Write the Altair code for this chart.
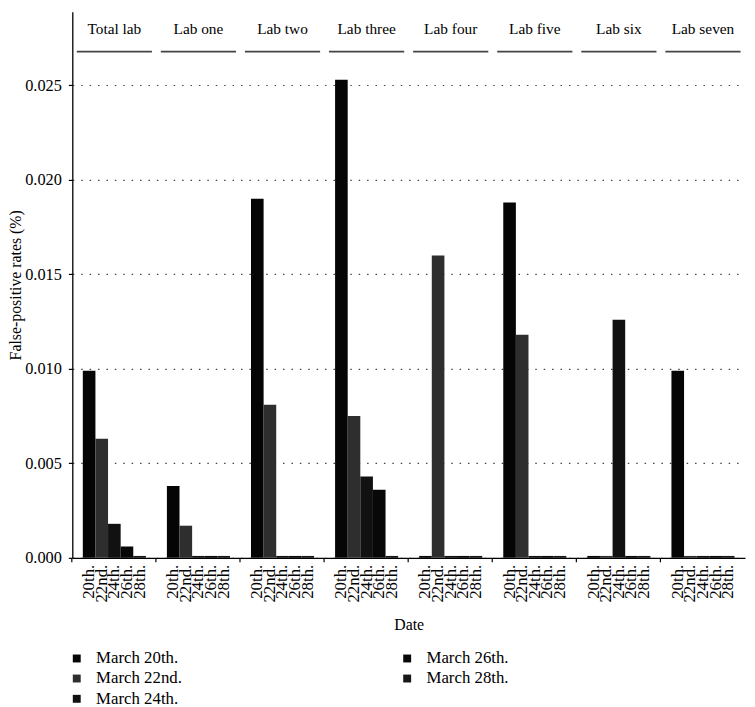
import altair as alt
import pandas as pd

labs = ["Total lab", "Lab one", "Lab two", "Lab three", "Lab four",
        "Lab five", "Lab six", "Lab seven"]
dates = ["20th.", "22nd.", "24th.", "26th.", "28th."]
series_names = ["March 20th.", "March 22nd.", "March 24th.", "March 26th.", "March 28th."]
series_colors = ["#050505", "#2e2e2e", "#111111", "#080808", "#171717"]

# false-positive rates per lab, for 20th, 22nd, 24th, 26th, 28th
total_lab = [0.0099, 0.0063, 0.0018, 0.0006, 0.0001]
lab_one = [0.0038, 0.0017, 0.0001, 0.0001, 0.0001]
lab_two = [0.0190, 0.0081, 0.0001, 0.0001, 0.0001]
lab_three = [0.0253, 0.0075, 0.0043, 0.0036, 0.0001]
lab_four = [0.0001, 0.0160, 0.0001, 0.0001, 0.0001]
lab_five = [0.0188, 0.0118, 0.0001, 0.0001, 0.0001]
lab_six = [0.0001, 0.0001, 0.0126, 0.0001, 0.0001]
lab_seven = [0.0099, 0.0001, 0.0001, 0.0001, 0.0001]

y_ticks = [0.0, 0.005, 0.010, 0.015, 0.020, 0.025]

all_values = [total_lab, lab_one, lab_two, lab_three, lab_four, lab_five, lab_six, lab_seven]
rows = []
for lab, vals in zip(labs, all_values):
    for d, s, v in zip(dates, series_names, vals):
        rows.append({"lab": lab, "date": d, "series": s, "rate": v})
df = pd.DataFrame(rows)
labs_df = pd.DataFrame({"lab": labs})

FONT = "Liberation Serif"

x_enc = alt.X("lab:N", sort=labs,
              scale=alt.Scale(paddingInner=0.25, paddingOuter=0.125),
              axis=alt.Axis(title="Date", labels=False, ticks=True, tickSize=4,
                            bandPosition=-0.1667, grid=False,
                            titlePadding=55, titleFontSize=16,
                            titleFont=FONT, titleFontWeight="normal"))
xo_enc = alt.XOffset("date:N", sort=dates,
                     scale=alt.Scale(paddingInner=0, paddingOuter=0))

bars = alt.Chart(df).mark_bar().encode(
    x=x_enc,
    xOffset=xo_enc,
    y=alt.Y("rate:Q",
            scale=alt.Scale(domain=[0, 0.0289], nice=False, zero=True),
            axis=alt.Axis(values=y_ticks, format=".3f",
                          title="False-positive rates (%)",
                          grid=True, gridDash=[1.5, 7], gridColor="#444",
                          gridWidth=1.1, tickSize=4, labelPadding=7,
                          labelFont=FONT, labelFontSize=16.5,
                          titleFont=FONT, titleFontSize=16,
                          titleFontWeight="normal", titleX=-49)),
    color=alt.Color("series:N",
                    scale=alt.Scale(domain=series_names, range=series_colors),
                    legend=alt.Legend(title=None, orient="none", legendX=-4,
                                      legendY=645, columns=2, columnPadding=219,
                                      symbolType="square", symbolSize=64,
                                      symbolStrokeWidth=0, labelFontSize=17,
                                      labelOffset=11, rowPadding=2.5,
                                      labelFont=FONT, labelColor="black")),
)

underline = alt.Chart(labs_df).mark_bar(width=76, color="#444").encode(
    x=alt.X("lab:N", sort=labs),
    y=alt.value(39.5),
    y2=alt.value(41.2),
)

headers = alt.Chart(labs_df).mark_text(fontSize=15.5, baseline="middle",
                                       font=FONT, color="black").encode(
    x=alt.X("lab:N", sort=labs),
    y=alt.value(17),
    text="lab:N",
)

date_labels = alt.Chart(df).mark_text(angle=270, align="right", baseline="middle",
                                      fontSize=17, font=FONT, color="black").encode(
    x=alt.X("lab:N", sort=labs),
    xOffset=alt.XOffset("date:N", sort=dates),
    y=alt.value(559),
    text="date:N",
)

chart = alt.layer(bars, underline, headers, date_labels).properties(
    width=680,
    height=552,
    autosize=alt.AutoSizeParams(type="none"),
    padding={"left": 65, "top": 0, "right": 2, "bottom": 147},
).configure_view(stroke=None).configure_axis(
    labelFont=FONT, titleFont=FONT, labelColor="black", titleColor="black",
    domainColor="black", tickColor="black", domainWidth=1.3, tickWidth=1.2,
).configure_legend(labelFont=FONT)

chart.save("out.html", embed_options={"renderer": "svg", "actions": False})
